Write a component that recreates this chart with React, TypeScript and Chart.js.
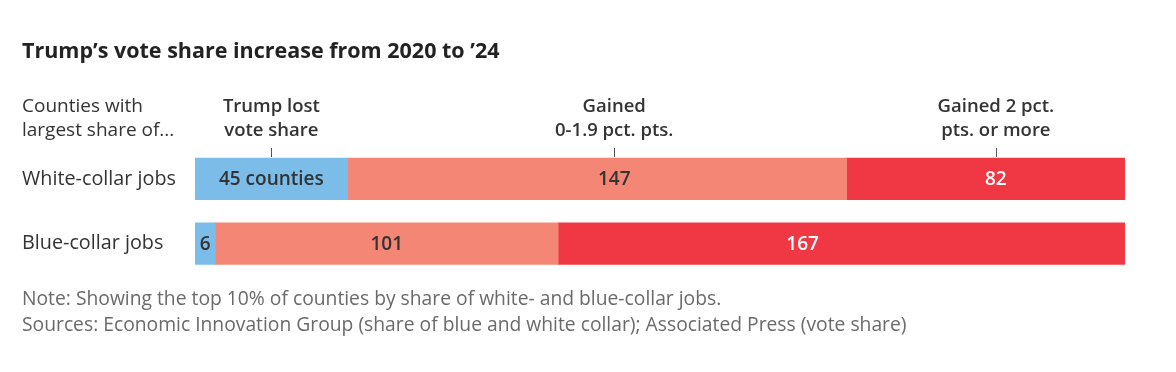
import React, { useEffect, useRef } from "react";
import { Chart, registerables } from "chart.js";

Chart.register(...registerables);

// ---------- data ----------
const title = "Trump’s vote share increase from 2020 to ’24";
const rowHeader = ["Counties with", "largest share of..."];
const categories = ["White-collar jobs", "Blue-collar jobs"];
const seriesNames = ["Trump lost vote share", "Gained 0-1.9 pct. pts.", "Gained 2 pct. pts. or more"];
const headerLines = [
  ["Trump lost", "vote share"],
  ["Gained", "0-1.9 pct. pts."],
  ["Gained 2 pct.", "pts. or more"],
];
const lostShare = [45, 6];
const gainedUnder2 = [147, 101];
const gained2Plus = [82, 167];
const totalCounties = 274;
const notes = [
  "Note: Showing the top 10% of counties by share of white- and blue-collar jobs.",
  "Sources: Economic Innovation Group (share of blue and white collar); Associated Press (vote share)",
];

// ---------- styles ----------
const COLORS = ["#7bbce8", "#f48676", "#ef3844"];
const LABEL_COLORS = ["#333333", "#333333", "#ffffff"];
const FONT = "'Open Sans', Roboto, 'DejaVu Sans', sans-serif";
// label nudges (px) per row / segment, matching the reference placement
const LABEL_NUDGE = [
  [0, 17, 10],
  [0, 0, -39],
];

const annotations = {
  id: "annotations",
  afterDatasetsDraw(chart: any) {
    const { ctx, scales } = chart;
    const x = scales.x;
    ctx.save();
    ctx.textBaseline = "middle";

    // title
    ctx.fillStyle = "#222222";
    ctx.textAlign = "left";
    ctx.font = `bold 21.5px ${FONT}`;
    ctx.fillText(title, 22, 52);

    // row header
    ctx.font = `400 19px ${FONT}`;
    ctx.fillStyle = "#333333";
    ctx.fillText(rowHeader[0], 22, 107);
    ctx.fillText(rowHeader[1], 22, 131);

    // row labels
    const metas = chart.data.datasets.map((_: any, i: number) => chart.getDatasetMeta(i));
    categories.forEach((c, r) => {
      const bar = metas[0].data[r];
      ctx.textAlign = "left";
      ctx.font = `400 19.8px ${FONT}`;
      ctx.fillStyle = "#333333";
      ctx.fillText(c, 22, bar.y);
    });

    // segment labels
    const labelX: number[][] = [];
    categories.forEach((_, r) => {
      labelX[r] = [];
      let start = 0;
      chart.data.datasets.forEach((ds: any, s: number) => {
        const v = ds.data[r];
        const cx = x.getPixelForValue(start + v / 2) + LABEL_NUDGE[r][s];
        labelX[r][s] = cx;
        start += v;
        const bar = metas[s].data[r];
        const txt = r === 0 && s === 0 ? `${v} counties` : `${v}`;
        ctx.textAlign = "center";
        ctx.font = `600 19px ${FONT}`;
        ctx.fillStyle = LABEL_COLORS[s];
        ctx.fillText(txt, cx, bar.y + 1);
      });
    });

    // column headers + ticks aligned with the first row's labels
    headerLines.forEach((lines, s) => {
      const cx = labelX[0][s];
      ctx.textAlign = "center";
      ctx.font = `600 18.5px ${FONT}`;
      ctx.fillStyle = "#333333";
      ctx.fillText(lines[0], cx, 107);
      ctx.fillText(lines[1], cx, 131);
      ctx.strokeStyle = "#555555";
      ctx.lineWidth = 1;
      ctx.beginPath();
      ctx.moveTo(Math.round(cx) + 0.5, 148);
      ctx.lineTo(Math.round(cx) + 0.5, 157);
      ctx.stroke();
    });

    // notes
    ctx.textAlign = "left";
    ctx.font = `400 19.3px ${FONT}`;
    ctx.fillStyle = "#6a6a6a";
    ctx.fillText(notes[0], 22, 300);
    ctx.fillText(notes[1], 22, 326);
    ctx.restore();
  },
};

export default function App() {
  const ref = useRef<HTMLCanvasElement | null>(null);
  useEffect(() => {
    document.body.style.margin = "0";
    const canvas = ref.current!;
    const chart = new Chart(canvas, {
      type: "bar",
      data: {
        labels: categories,
        datasets: [
          { label: seriesNames[0], data: lostShare, backgroundColor: COLORS[0] },
          { label: seriesNames[1], data: gainedUnder2, backgroundColor: COLORS[1] },
          { label: seriesNames[2], data: gained2Plus, backgroundColor: COLORS[2] },
        ],
      },
      options: {
        indexAxis: "y",
        responsive: false,
        animation: false,
        layout: { padding: { left: 195, right: 51, top: 146.5, bottom: 96 } },
        datasets: { bar: { barThickness: 41.5, borderWidth: 0 } },
        scales: {
          x: { stacked: true, display: false, min: 0, max: totalCounties },
          y: { stacked: true, display: false },
        },
        plugins: {
          legend: { display: false },
          tooltip: { enabled: false },
          title: { display: false },
        },
      },
      plugins: [annotations],
    } as any);
    return () => chart.destroy();
  }, []);
  return (
    <div style={{ width: 1176, height: 372, background: "#fff" }}>
      <canvas ref={ref} width={1176} height={372} style={{ display: "block" }} />
    </div>
  );
}
